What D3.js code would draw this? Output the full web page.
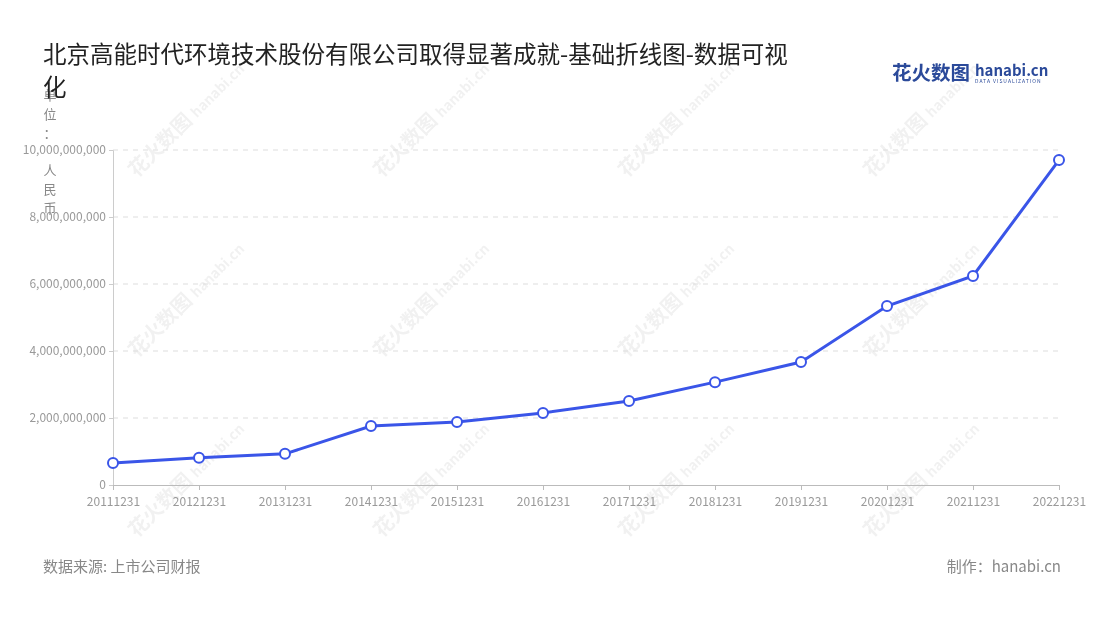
<!DOCTYPE html>
<html><head><meta charset="utf-8">
<script src="https://cdn.jsdelivr.net/npm/d3@7"></script>
<style>body{margin:0;background:#fff;font-family:"Noto Sans CJK SC","Noto Sans",sans-serif}</style>
</head><body><svg id="c" width="1100" height="620"></svg>
<script>
const categories=["20111231","20121231","20131231","20141231","20151231","20161231","20171231","20181231","20191231","20201231","20211231","20221231"];
const values=[660000000,810000000,930000000,1760000000,1880000000,2150000000,2510000000,3070000000,3670000000,5340000000,6240000000,9700000000];
const yTicks=[0,2000000000,4000000000,6000000000,8000000000,10000000000];
const unitLabel=["单","位","：","人","民","币"];
const svg=d3.select("#c");
const font='"Noto Sans CJK SC","Noto Sans",sans-serif';
const wm=svg.append("g").attr("opacity",0.07);
[[165,150],[410,150],[655,150],[900,150],[165,330],[410,330],[655,330],[900,330],[165,510],[410,510],[655,510],[900,510]].forEach(([x,y])=>{
 const g=wm.append("g").attr("transform",`translate(${x},${y}) rotate(-45)`);
 g.append("text").attr("x",-40).attr("y",0).attr("font-size",20).attr("font-weight","bold").attr("fill","#333").text("花火数图");
 g.append("text").attr("x",45).attr("y",0).attr("font-size",14).attr("font-weight","bold").attr("fill","#333").text("hanabi.cn");
});
const x=d3.scalePoint().domain(categories).range([113,1059]);
const y=d3.scaleLinear().domain([0,10000000000]).range([485,150]);
svg.append("g").selectAll("line").data(yTicks.slice(1)).join("line")
 .attr("x1",113).attr("x2",1059).attr("y1",d=>y(d)).attr("y2",d=>y(d))
 .attr("stroke","#ddd").attr("stroke-dasharray","5,5");
const ya=svg.append("g").attr("transform","translate(113,0)").call(d3.axisLeft(y).tickValues(yTicks).tickFormat(d3.format(",")).tickSize(4));
ya.select(".domain").attr("stroke","#ccc");
ya.selectAll(".tick line").attr("stroke","#ccc");
ya.selectAll("text").attr("fill","#999").attr("font-size",12).attr("font-family",font);
const xa=svg.append("g").attr("transform","translate(0,485)").call(d3.axisBottom(x).tickSize(5));
xa.select(".domain").attr("stroke","#bbb");
xa.selectAll(".tick line").attr("stroke","#bbb");
xa.selectAll("text").attr("fill","#999").attr("font-size",12).attr("font-family",font).attr("dy","1.1em");
svg.append("path").datum(values).attr("fill","none").attr("stroke","#3a55e8").attr("stroke-width",3)
 .attr("d",d3.line().x((d,i)=>x(categories[i])).y(d=>y(d)));
svg.append("g").selectAll("circle").data(values).join("circle")
 .attr("cx",(d,i)=>x(categories[i])).attr("cy",d=>y(d)).attr("r",5)
 .attr("fill","#fff").attr("stroke","#3a55e8").attr("stroke-width",2);
svg.append("g").selectAll("text").data(unitLabel).join("text")
 .attr("x",50).attr("y",(d,i)=>100+i*19+(i>=3?18:0)).attr("text-anchor","middle").attr("font-size",13).attr("fill","#888").attr("font-family",font).text(d=>d);
svg.append("text").attr("x",43).attr("y",63).attr("font-size",23.5).attr("fill","#222").attr("font-family",font).text("北京高能时代环境技术股份有限公司取得显著成就-基础折线图-数据可视");
svg.append("text").attr("x",43).attr("y",96).attr("font-size",23.5).attr("fill","#222").attr("font-family",font).text("化");
svg.append("text").attr("x",43).attr("y",572).attr("font-size",15).attr("fill","#888").attr("font-family",font).text("数据来源: 上市公司财报");
svg.append("text").attr("x",1061).attr("y",572).attr("text-anchor","end").attr("font-size",15).attr("fill","#888").attr("font-family",font).text("制作：hanabi.cn");
svg.append("text").attr("x",892).attr("y",80).attr("font-size",19.5).attr("font-weight","bold").attr("fill","#2b4a9a").attr("font-family",font).text("花火数图");
svg.append("text").attr("x",975).attr("y",76).attr("font-size",15).attr("font-weight","bold").attr("fill","#2b4a9a").attr("font-family",font).text("hanabi.cn");
svg.append("text").attr("x",975).attr("y",83).attr("font-size",5).attr("fill","#2b4a9a").attr("font-family",font).attr("letter-spacing",1).text("DATA VISUALIZATION");
</script></body></html>
